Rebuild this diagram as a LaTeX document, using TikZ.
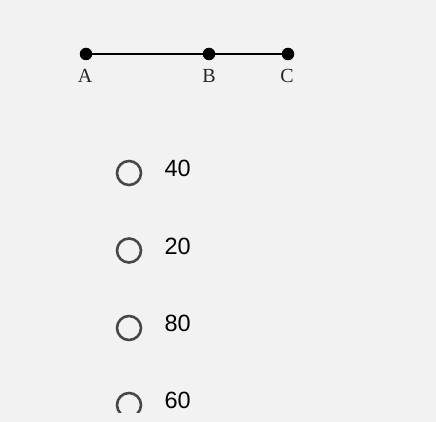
\documentclass[tikz,border=0pt]{standalone}
\usepackage{fontspec}
\setmainfont{Liberation Serif}
\newfontfamily\optfont{Liberation Sans}
\usepackage{tikz}
\usetikzlibrary{positioning}
\definecolor{bggray}{HTML}{F2F2F2}
\definecolor{radgray}{HTML}{474747}

\begin{document}
\begin{tikzpicture}[x=1pt, y=-1pt,
		dot/.style={circle, fill=black, inner sep=0pt, minimum size=12.5pt},
		ptlabel/.style={font=\fontsize{20}{20}\selectfont, text=black!85, inner sep=0pt},
		radio/.style={circle, draw=radgray, line width=2.6pt, inner sep=0pt, minimum size=24pt},
		opttext/.style={font=\optfont\fontsize{23.5}{24}\selectfont, inner sep=0pt, anchor=west}]
		\useasboundingbox (0,0) rectangle (436,422);
		\fill[bggray] (0,0) rectangle (436,422);
		\clip (0,0) rectangle (436,412);
		% segment A--B--C
		\node[dot] (ptA) at (86,54) {};
		\node[dot] (ptB) at (209,54) {};
		\node[dot] (ptC) at (288,54) {};
		\draw[line width=2.4pt] (ptA) -- (ptB) -- (ptC);
		\node[ptlabel] (labA) at (85,76) {A};
		\node[ptlabel] (labB) at (209,76) {B};
		\node[ptlabel] (labC) at (287,76) {C};
		% answer choices
		\foreach \val/\yy in {40/173, 20/250.5, 80/328, 60/405} {
			\node[radio] (rad\val) at (129,\yy) {};
			\node[opttext, right=22pt of rad\val, yshift=4.5pt] (opt\val) {\val};
		}
		\end{tikzpicture}
\end{document}
